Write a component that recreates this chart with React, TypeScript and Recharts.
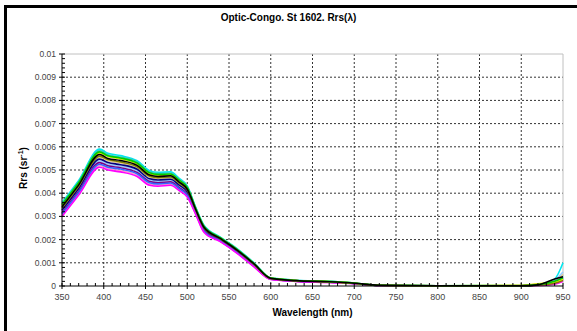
import { LineChart, Line, XAxis, YAxis, CartesianGrid, ReferenceLine } from 'recharts'

// wavelength samples (nm)
const wavelengths = [350, 370, 395, 405, 420, 440, 455, 465, 480, 490, 500, 510, 520, 540, 560, 580, 600, 630, 670, 700, 730, 800, 900, 920, 940, 950]

// Rrs spectra, one array per cast
const cyan = [0.0036, 0.00455, 0.0059, 0.00572, 0.00562, 0.0054, 0.00497, 0.0049, 0.00492, 0.00465, 0.00432, 0.0034, 0.00262, 0.0021, 0.0016, 0.001, 0.00035, 0.00025, 0.0002, 0.00013, 0.00003, 0.00001, 0.00002, 0.00005, 0.0003, 0.001]
const teal = [0.00355, 0.0045, 0.00584, 0.00566, 0.00556, 0.00535, 0.00492, 0.00485, 0.00487, 0.00461, 0.00428, 0.00338, 0.0026, 0.00208, 0.00158, 0.00099, 0.00034, 0.00025, 0.0002, 0.00013, 0.00003, 0.00001, 0.00002, 0.00004, 0.00015, 0.00045]
const green = [0.00351, 0.00446, 0.00578, 0.00561, 0.00552, 0.0053, 0.00488, 0.00481, 0.00483, 0.00457, 0.00425, 0.00336, 0.00258, 0.00207, 0.00157, 0.00097, 0.00034, 0.00024, 0.00019, 0.00013, 0.00003, 0.00001, 0.00001, 0.00006, 0.0002, 0.00035]
const yellow = [0.00348, 0.00442, 0.00574, 0.00558, 0.00548, 0.00526, 0.00484, 0.00478, 0.0048, 0.00454, 0.00422, 0.00334, 0.00256, 0.00206, 0.00156, 0.00096, 0.00034, 0.00024, 0.00019, 0.00012, 0.00003, 0.00001, 0.00003, 0.0001, 0.00018, 0.0003]
const black = [0.00342, 0.00436, 0.00567, 0.0055, 0.00541, 0.0052, 0.00478, 0.00472, 0.00475, 0.00449, 0.00417, 0.00331, 0.00253, 0.00204, 0.00154, 0.00095, 0.00033, 0.00023, 0.00018, 0.00012, 0.00003, 0.00001, 0.00001, 0.00005, 0.0003, 0.0004]
const olive = [0.00337, 0.00431, 0.0056, 0.00545, 0.00535, 0.00514, 0.00473, 0.00467, 0.0047, 0.00445, 0.00413, 0.00329, 0.00251, 0.00202, 0.00152, 0.00093, 0.00032, 0.00023, 0.00018, 0.00012, 0.00002, 0.00001, 0.00001, 0.00004, 0.00012, 0.00025]
const tan = [0.00333, 0.00427, 0.00555, 0.0054, 0.0053, 0.00509, 0.00469, 0.00463, 0.00466, 0.00441, 0.0041, 0.00326, 0.00248, 0.00201, 0.00151, 0.00092, 0.00032, 0.00023, 0.00018, 0.00012, 0.00002, 0, 0.00002, 0.00008, 0.00022, 0.0005]
const navy = [0.00327, 0.0042, 0.00547, 0.00532, 0.00523, 0.00503, 0.00462, 0.00457, 0.0046, 0.00436, 0.00405, 0.00323, 0.00245, 0.00199, 0.00149, 0.0009, 0.00031, 0.00022, 0.00017, 0.00011, 0.00002, 0, 0.00001, 0.00003, 0.00016, 0.00032]
const lightBlue = [0.00321, 0.00414, 0.00539, 0.00525, 0.00516, 0.00496, 0.00456, 0.00451, 0.00454, 0.00431, 0.004, 0.0032, 0.00242, 0.00197, 0.00147, 0.00088, 0.0003, 0.00022, 0.00017, 0.00011, 0.00002, 0, 0.00002, 0.00006, 0.00026, 0.0006]
const purple = [0.00315, 0.00408, 0.00532, 0.00518, 0.0051, 0.00489, 0.0045, 0.00445, 0.00449, 0.00425, 0.00395, 0.00318, 0.0024, 0.00195, 0.00145, 0.00087, 0.0003, 0.00021, 0.00016, 0.00011, 0.00002, 0, 0.00001, 0.00004, 0.00014, 0.00028]
const blue = [0.0031, 0.00403, 0.00525, 0.00512, 0.00504, 0.00484, 0.00445, 0.0044, 0.00444, 0.00421, 0.00391, 0.00315, 0.00237, 0.00193, 0.00143, 0.00085, 0.00029, 0.00021, 0.00016, 0.00011, 0.00002, 0, 0.00001, 0.00007, 0.0002, 0.00038]
const pink = [0.00305, 0.00397, 0.00518, 0.00506, 0.00498, 0.00477, 0.00439, 0.00435, 0.00439, 0.00416, 0.00387, 0.00312, 0.00234, 0.00192, 0.00142, 0.00083, 0.00029, 0.0002, 0.00015, 0.0001, 0.00002, 0, 0, 0.00003, 0.0001, 0.00022]
const magenta = [0.003, 0.00392, 0.00512, 0.005, 0.00492, 0.00472, 0.00434, 0.0043, 0.00434, 0.00412, 0.00383, 0.0031, 0.00232, 0.0019, 0.0014, 0.00082, 0.00028, 0.0002, 0.00015, 0.0001, 0.00002, 0, 0, 0.00002, 0.00008, 0.0002]

const series = [
  { key: 'cyan', color: '#00E8F0', values: cyan },
  { key: 'teal', color: '#33CCCC', values: teal },
  { key: 'tan', color: '#E8C890', values: tan },
  { key: 'lightBlue', color: '#99CCFF', values: lightBlue },
  { key: 'pink', color: '#FF99CC', values: pink },
  { key: 'navy', color: '#000080', values: navy },
  { key: 'purple', color: '#800080', values: purple },
  { key: 'blue', color: '#3366FF', values: blue },
  { key: 'magenta', color: '#FF00FF', values: magenta },
  { key: 'olive', color: '#808000', values: olive },
  { key: 'yellow', color: '#E6E600', values: yellow },
  { key: 'green', color: '#00CC00', values: green },
  { key: 'black', color: '#000000', values: black },
]

const xMajor = [350, 400, 450, 500, 550, 600, 650, 700, 750, 800, 850, 900, 950]
const yMajor = [0, 0.001, 0.002, 0.003, 0.004, 0.005, 0.006, 0.007, 0.008, 0.009, 0.01]
const yLabels = ['0', '0.001', '0.002', '0.003', '0.004', '0.005', '0.006', '0.007', '0.008', '0.009', '0.01']
const xMinor = Array.from({ length: 61 }, (_, i) => 350 + i * 10)
const yMinor = Array.from({ length: 51 }, (_, i) => (i * 2) / 10000)

const data = wavelengths.map((w, i) => {
  const row: Record<string, number> = { w }
  series.forEach(s => { row[s.key] = s.values[i] })
  return row
})

const font = '"Liberation Sans", Arial, sans-serif'

function XTick({ x, y, payload }: any) {
  const v = payload.value
  const major = Math.round(v) % 50 === 0
  return (
    <g>
      <line x1={x} x2={x} y1={y - 3} y2={major ? y + 3 : y} stroke="#000" />
      {major && <text x={x} y={y + 14} textAnchor="middle" fontSize={9} fill="#444" fontFamily={font}>{Math.round(v)}</text>}
    </g>
  )
}

function YTick({ x, y, index }: any) {
  const major = index % 5 === 0
  return (
    <g>
      <line x1={major ? x - 3 : x} x2={x + 3} y1={y} y2={y} stroke="#000" />
      {major && <text x={x - 6} y={y + 3} textAnchor="end" fontSize={8.5} fill="#444" fontFamily={font}>{yLabels[index / 5]}</text>}
    </g>
  )
}

export default function App() {
  return (
    <div style={{ position: 'absolute', left: 0, top: 0, width: 577, height: 331, overflow: 'hidden', background: '#fff' }}>
      <div style={{ position: 'absolute', left: 4, top: 5, width: 700, height: 500, borderTop: '3px solid #000', borderLeft: '3px solid #000' }} />
      <div style={{ position: 'absolute', left: 0, width: 577, top: 12, textAlign: 'center', fontFamily: font, fontWeight: 'bold', fontSize: 10 }}>
        Optic-Congo. St 1602. Rrs(λ)
      </div>
      <div style={{ position: 'absolute', left: 62, width: 501, top: 307, textAlign: 'center', fontFamily: font, fontWeight: 'bold', fontSize: 10 }}>
        Wavelength (nm)
      </div>
      <div style={{ position: 'absolute', left: 24, top: 168, transform: 'translate(-50%, -50%) rotate(-90deg)', whiteSpace: 'nowrap', fontFamily: font, fontWeight: 'bold', fontSize: 10, lineHeight: '12px' }}>
        Rrs (sr<sup style={{ fontSize: 7, lineHeight: 0 }}>-1</sup>)
      </div>
      <div style={{ position: 'absolute', left: 0, top: 0 }}>
        <LineChart width={577} height={331} data={data} margin={{ top: 54, right: 14, bottom: 0, left: 0 }}>
          <CartesianGrid
            stroke="#333"
            strokeDasharray="2 2"
            horizontalValues={yMajor.slice(1, 10)}
            verticalValues={xMajor.slice(1, 12)}
          />
          <ReferenceLine y={0.01} stroke="#c0c0c0" />
          <ReferenceLine x={950} stroke="#c0c0c0" />
          <XAxis
            dataKey="w"
            type="number"
            domain={[350, 950]}
            ticks={xMinor}
            interval={0}
            height={45}
            tickSize={0}
            tickMargin={0}
            tickLine={false}
            axisLine={{ stroke: '#000' }}
            tick={<XTick />}
          />
          <YAxis
            type="number"
            domain={[0, 0.01]}
            ticks={yMinor}
            interval={0}
            width={62}
            tickSize={0}
            tickMargin={0}
            tickLine={false}
            axisLine={{ stroke: '#000' }}
            tick={<YTick />}
          />
          {series.map(s => (
            <Line
              key={s.key}
              dataKey={s.key}
              type="monotone"
              stroke={s.color}
              strokeWidth={1.6}
              dot={false}
              isAnimationActive={false}
            />
          ))}
        </LineChart>
      </div>
    </div>
  )
}
